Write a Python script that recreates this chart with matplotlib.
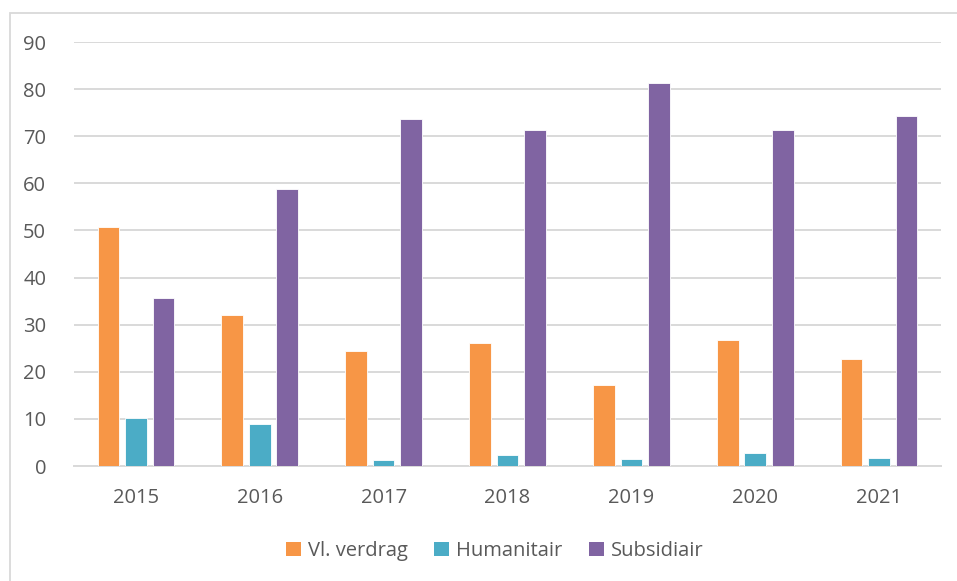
import numpy as np
import matplotlib.pyplot as plt
from matplotlib.patches import Rectangle, Patch

jaren = ['2015', '2016', '2017', '2018', '2019', '2020', '2021']
vl_verdrag = [50.7, 32.1, 24.4, 26.2, 17.1, 26.8, 22.8]
humanitair = [10.1, 9.0, 1.3, 2.3, 1.5, 2.8, 1.6]
subsidiair = [35.6, 58.7, 73.7, 71.4, 81.4, 71.4, 74.2]

reeksen = ['Vl. verdrag', 'Humanitair', 'Subsidiair']
kleuren = ['#F79646', '#4BACC6', '#8064A2']

plt.rcParams['font.family'] = ['Open Sans', 'DejaVu Sans']
tekstkleur = '#595959'

fig = plt.figure(figsize=(9.57, 5.81), dpi=100)
ax = fig.add_axes([74/957, 1-466/581, (941-74)/957, (466-42)/581])

x = np.arange(len(jaren))
breedte = 0.175
stap = 0.222
for i, (waarden, kleur) in enumerate(zip([vl_verdrag, humanitair, subsidiair], kleuren)):
    ax.bar(x + (i-1)*stap, waarden, breedte, color=kleur, edgecolor='white', linewidth=0.6, zorder=3)

ax.set_xlim(-0.5, len(jaren)-0.5)
ax.set_ylim(0, 90)
ax.set_yticks(np.arange(0, 91, 10))
ax.set_xticks(x)
ax.set_xticklabels(jaren)
ax.yaxis.grid(True, color='#d9d9d9', linewidth=1.4, zorder=0)
ax.set_axisbelow(True)
for s in ['top', 'right', 'left']:
    ax.spines[s].set_visible(False)
ax.spines['bottom'].set_color('#d9d9d9')
ax.spines['bottom'].set_linewidth(1.4)
ax.tick_params(axis='both', length=0, labelsize=14.5, colors=tekstkleur)
ax.tick_params(axis='y', pad=20)
ax.tick_params(axis='x', pad=16)

# rand om de grafiek
fig.patches.append(Rectangle((10/957, -0.02), 1.0, 1-13/581+0.02, transform=fig.transFigure,
                             fill=False, edgecolor='#d9d9d9', linewidth=1.3))

handles = [Patch(facecolor=k, label=r) for k, r in zip(kleuren, reeksen)]
fig.legend(handles=handles, loc='center', bbox_to_anchor=(0.517, 1-551/581), ncol=3,
           frameon=False, fontsize=14.5, labelcolor=tekstkleur, handlelength=0.75,
           handleheight=0.75, handletextpad=0.35, columnspacing=1.3)

fig.savefig('out.png', dpi=100)
